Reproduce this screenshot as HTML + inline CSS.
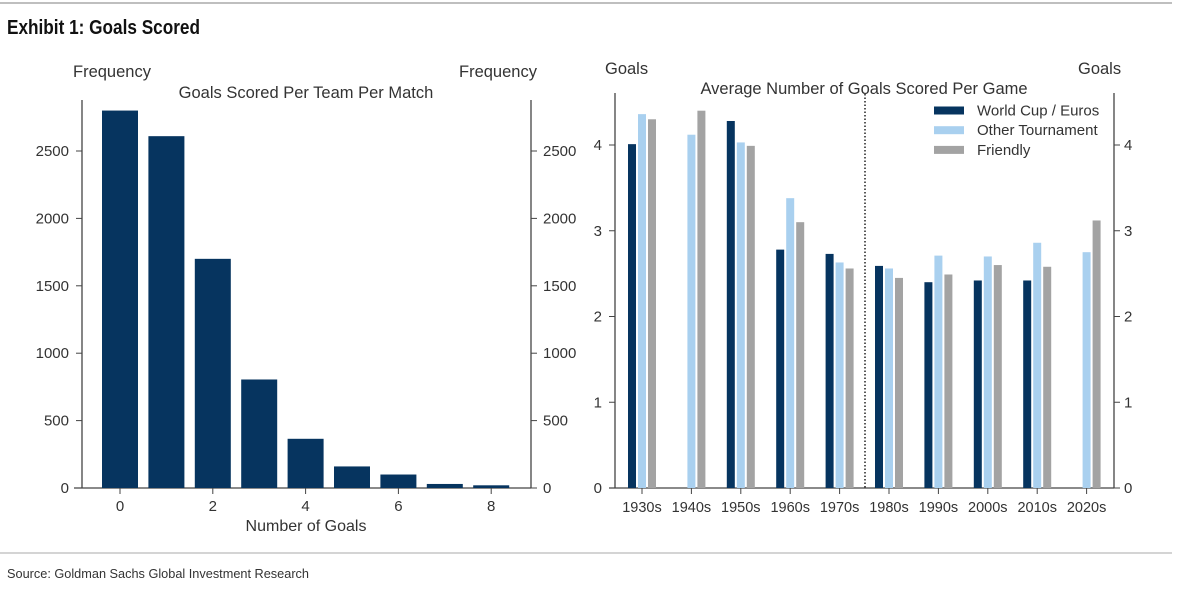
<!DOCTYPE html>
<html><head><meta charset="utf-8"><style>
body{margin:0;background:#fff;width:1200px;height:601px;overflow:hidden;font-family:"Liberation Sans",sans-serif}
svg text{font-family:"Liberation Sans",sans-serif;fill:#333}
</style></head><body>
<svg id="c" width="1200" height="601" xmlns="http://www.w3.org/2000/svg">
<line x1="0" y1="3" x2="1172" y2="3" stroke="#aaa" stroke-width="1.5"/>
<text x="7" y="34" textLength="193" lengthAdjust="spacingAndGlyphs" style="font-weight:bold;font-size:20px;fill:#111">Exhibit 1: Goals Scored</text>
<line x1="0" y1="553" x2="1172" y2="553" stroke="#aaa" stroke-width="1"/>
<text x="7" y="578" textLength="302" lengthAdjust="spacingAndGlyphs" style="font-size:13px;fill:#333">Source: Goldman Sachs Global Investment Research</text>
<g id="left"></g>
<g id="right"></g>
</svg>
<script>
const goalCounts=[0,1,2,3,4,5,6,7,8];
const goalFreq=[2800,2610,1700,805,365,160,100,30,20];
const freqTicks=[0,500,1000,1500,2000,2500];
const goalTicks=[0,2,4,6,8];
const decades=["1930s","1940s","1950s","1960s","1970s","1980s","1990s","2000s","2010s","2020s"];
const worldCup=[4.01,null,4.28,2.78,2.73,2.59,2.40,2.42,2.42,null];
const otherTour=[4.36,4.12,4.03,3.38,2.63,2.56,2.71,2.70,2.86,2.75];
const friendly=[4.30,4.40,3.99,3.10,2.56,2.45,2.49,2.60,2.58,3.12];
const avgTicks=[0,1,2,3,4];
const NS="http://www.w3.org/2000/svg";
function mk(p,t,a,txt){const e=document.createElementNS(NS,t);for(const k in a)e.setAttribute(k,a[k]);if(txt!=null)e.textContent=txt;p.appendChild(e);return e;}
// left chart
const L=document.getElementById('left');
const ly=v=>488-v*(337/2500), lx=v=>120+v*46.4;
let e;
e=mk(L,'line',{x1:82,y1:100,x2:82,y2:488,stroke:'#444','stroke-width':1.3});


e=mk(L,'line',{x1:531,y1:100,x2:531,y2:488,stroke:'#444','stroke-width':1.3});


e=mk(L,'line',{x1:74,y1:488,x2:531,y2:488,stroke:'#444','stroke-width':1.3});


freqTicks.forEach(t=>{const y=ly(t);
mk(L,'line',{x1:76,y1:y,x2:82,y2:y,stroke:'#444'});
mk(L,'line',{x1:531,y1:y,x2:537,y2:y,stroke:'#444'});
e=mk(L,'text',{x:69,y:y+5,'text-anchor':'end','font-size':15},t);


e=mk(L,'text',{x:543,y:y+5,'font-size':15},t);

});
goalTicks.forEach(t=>{const x=lx(t);mk(L,'line',{x1:x,y1:488,x2:x,y2:494,stroke:'#444'});
e=mk(L,'text',{x:x,y:511,'text-anchor':'middle','font-size':15},t);

});
goalCounts.forEach((g,i)=>{const x=lx(g),y=ly(goalFreq[i]);
e=mk(L,'rect',{x:x-18,y:y,width:36,height:488-y,fill:'#06345f'});

});
e=mk(L,'text',{x:73,y:77,'font-size':16.5},'Frequency');
e=mk(L,'text',{x:459,y:77,'font-size':16.5},'Frequency');
e=mk(L,'text',{x:306,y:98,'text-anchor':'middle','font-size':16.5},'Goals Scored Per Team Per Match');
e=mk(L,'text',{x:306,y:531,'text-anchor':'middle','font-size':16},'Number of Goals');
// right chart
const R=document.getElementById('right');
const ry=v=>488-v*85.75, rx=i=>642+i*49.4;
e=mk(R,'line',{x1:615,y1:93,x2:615,y2:488,stroke:'#444','stroke-width':1.3});
e=mk(R,'line',{x1:1114,y1:93,x2:1114,y2:488,stroke:'#444','stroke-width':1.3});
e=mk(R,'line',{x1:609,y1:488,x2:1114,y2:488,stroke:'#444','stroke-width':1.3});
avgTicks.forEach(t=>{const y=ry(t);
mk(R,'line',{x1:609,y1:y,x2:615,y2:y,stroke:'#444'});
mk(R,'line',{x1:1114,y1:y,x2:1120,y2:y,stroke:'#444'});
e=mk(R,'text',{x:602,y:y+5,'text-anchor':'end','font-size':15},t);
e=mk(R,'text',{x:1124,y:y+5,'font-size':15},t);});
const series=[[worldCup,'#06345f',-10,'world-cup'],[otherTour,'#a9d0ef',0,'other-tournament'],[friendly,'#a3a3a3',10,'friendly']];
decades.forEach((d,i)=>{const c=rx(i);
mk(R,'line',{x1:c,y1:488,x2:c,y2:494,stroke:'#444'});
e=mk(R,'text',{x:c,y:512,'text-anchor':'middle','font-size':14.5},d);
series.forEach(s=>{const v=s[0][i];if(v==null)return;const y=ry(v);
e=mk(R,'rect',{x:c+s[2]-4,y:y,width:8,height:488-y,fill:s[1]});

});});
e=mk(R,'line',{x1:865,y1:94,x2:865,y2:488,stroke:'#222','stroke-width':1.5,'stroke-dasharray':'1.5 2'});
e=mk(R,'text',{x:605,y:74,'font-size':16.5},'Goals');
e=mk(R,'text',{x:1078,y:74,'font-size':16.5},'Goals');
e=mk(R,'text',{x:864,y:94,'text-anchor':'middle','font-size':16.5},'Average Number of Goals Scored Per Game');
const legendNames=['World Cup / Euros','Other Tournament','Friendly'];
series.forEach((s,k)=>{const y=110.5+k*19.7;
const g=mk(R,'g',{});


mk(g,'rect',{x:934,y:y-4,width:30,height:8,fill:s[1]});
mk(g,'text',{x:977,y:y+5,'font-size':15},legendNames[k]);});
</script>
</body></html>
